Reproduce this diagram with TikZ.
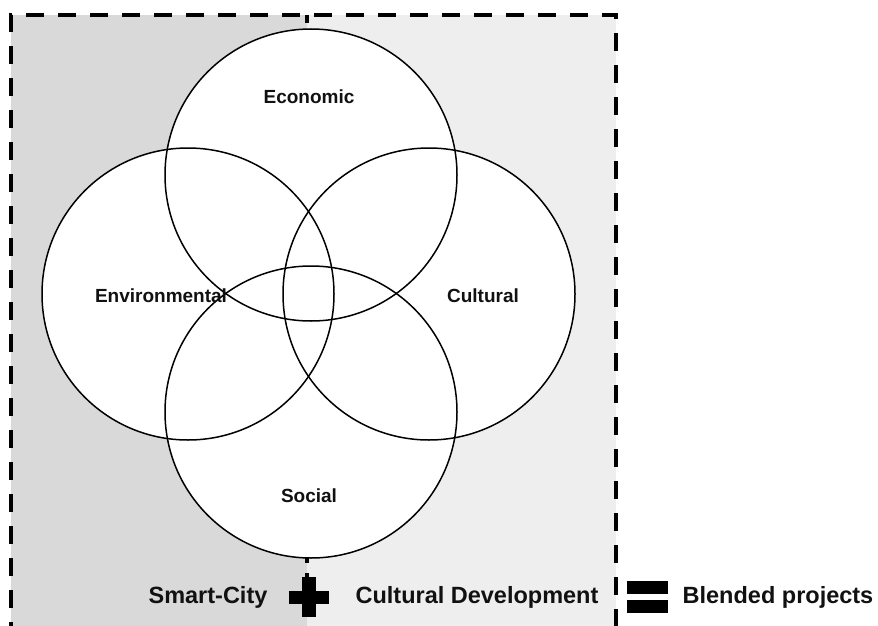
\documentclass[tikz,border=0pt]{standalone}
\usepackage{fontspec}
\setmainfont{Liberation Sans}
\definecolor{leftgray}{HTML}{D9D9D9}
\definecolor{rightgray}{HTML}{EEEEEE}
\definecolor{ink}{HTML}{111111}
\begin{document}
\begin{tikzpicture}[x=1pt,y=-1pt,
  border/.style={line width=4pt,dash pattern=on 18pt off 14pt,draw=black},
  ring/.style={circle,minimum size=292pt,inner sep=0pt},
  lab/.style={font=\fontsize{19}{22}\selectfont\bfseries,text=ink,anchor=base,inner sep=0pt},
  blab/.style={font=\fontsize{23.5}{27}\selectfont\bfseries,text=ink,anchor=base,inner sep=0pt},
  bar/.style={fill=black,draw=none}]
\useasboundingbox (0,0) rectangle (878,626);
% background regions
\fill[leftgray] (11,15) rectangle (307,640);
\fill[rightgray] (307,15) rectangle (616,640);
% middle dashed divider
\coordinate (mtop) at (307,15);
\coordinate (mbot) at (307,640);
\draw[line width=4pt,dash pattern=on 8pt off 10pt] (mtop) -- (mbot);
% outer dashed border
\coordinate (bl) at (11,640);
\coordinate (tl) at (11,15);
\coordinate (tr) at (616,15);
\coordinate (br) at (616,640);
\draw[border] (bl) -- (tl) -- (tr) -- (br);
% circles
\node[ring,fill=white] (eco) at (311,175) {};
\node[ring,fill=white] (env) at (188,294) {};
\node[ring,fill=white] (cul) at (429,294) {};
\node[ring,fill=white] (soc) at (311,412) {};
\foreach \c in {eco,env,cul,soc}
  \draw[line width=1.5pt] (\c) circle (146pt);
% labels
\node[lab] (leco) at (309,103) {Economic};
\node[lab] (lenv) at (161,302) {Environmental};
\node[lab] (lcul) at (483,302) {Cultural};
\node[lab] (lsoc) at (309,502) {Social};
% bottom equation
\node[blab] (smart) at (208,603) {Smart-City};
\node[bar,minimum width=14pt,minimum height=40pt,inner sep=0pt] (plusv) at (309,597) {};
\node[bar,minimum width=40pt,minimum height=13pt,inner sep=0pt] (plush) at (309,597.5) {};
\node[blab] (cdev) at (477,603) {Cultural Development};
\node[bar,minimum width=41pt,minimum height=13pt,inner sep=0pt] (eq1) at (647.5,587.5) {};
\node[bar,minimum width=41pt,minimum height=13pt,inner sep=0pt] (eq2) at (647.5,606.5) {};
\node[blab] (blend) at (778,603) {Blended projects};
\end{tikzpicture}
\end{document}
